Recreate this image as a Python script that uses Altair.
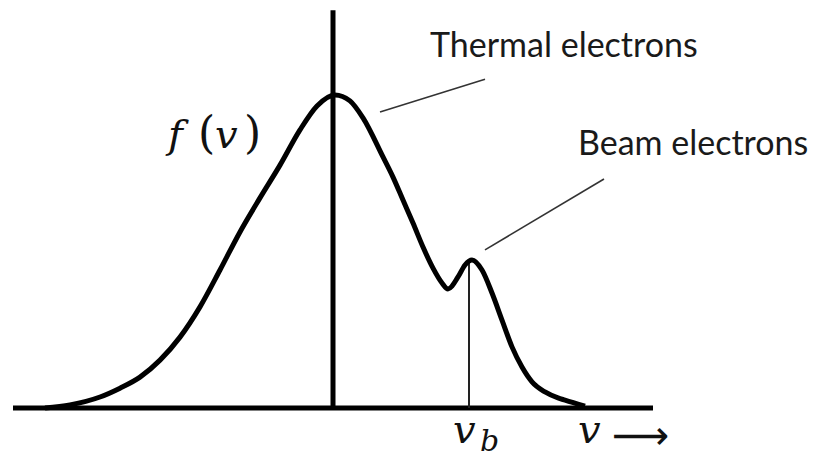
import altair as alt
import pandas as pd

# Distribution f(v) (v in arbitrary units, f normalised to the thermal peak)
v_vals = [-2.88, -2.63, -2.33, -2.13, -1.93, -1.73, -1.53, -1.33, -1.13, -0.93, -0.73, -0.53,
          -0.33, -0.16, 0.02, 0.17, 0.30, 0.50, 0.60, 0.70, 0.80, 0.90, 1.00, 1.09, 1.15,
          1.25, 1.32, 1.39, 1.49, 1.59, 1.69, 1.79, 1.89, 1.99, 2.12, 2.25, 2.32, 2.52]
f_vals = [0.000, 0.010, 0.035, 0.063, 0.098, 0.152, 0.225, 0.321, 0.438, 0.559, 0.667, 0.771,
          0.883, 0.959, 0.994, 0.975, 0.921, 0.797, 0.733, 0.660, 0.587, 0.511, 0.444, 0.397, 0.378,
          0.416, 0.454, 0.470, 0.438, 0.365, 0.279, 0.194, 0.130, 0.083, 0.051, 0.032, 0.025, 0.006]

v_beam = 1.36
f_beam = 0.463
labels = ["Thermal electrons", "Beam electrons"]

curve = pd.DataFrame({"v": v_vals, "f": f_vals})

X = alt.Scale(domain=[-3.25, 4.76], nice=False, zero=False)
Y = alt.Scale(domain=[-0.15873, 1.26984], nice=False, zero=False)


def seg(rows):
    return pd.DataFrame(rows, columns=["x", "y", "x2", "y2"])


axes_df = seg([[-3.20, 0.0, 3.20, 0.0], [0.0, 0.0, 0.0, 1.263]])
beam_df = seg([[v_beam, 0.0, v_beam, f_beam]])
ptr_df = seg([[0.47, 0.940, 1.52, 1.044], [1.52, 0.502, 2.71, 0.727]])


def rules(df, width, color):
    return alt.Chart(df).mark_rule(strokeWidth=width, color=color, strokeCap="butt").encode(
        x=alt.X("x:Q", scale=X, axis=None), y=alt.Y("y:Q", scale=Y, axis=None),
        x2="x2:Q", y2="y2:Q")


def texts(df, **kw):
    return alt.Chart(df).mark_text(align="left", **kw).encode(
        x=alt.X("x:Q", scale=X, axis=None), y=alt.Y("y:Q", scale=Y, axis=None), text="t:N")


line = alt.Chart(curve).mark_line(color="black", strokeWidth=5, interpolate="monotone").encode(
    x=alt.X("v:Q", scale=X, axis=None), y=alt.Y("f:Q", scale=Y, axis=None))

lab = texts(pd.DataFrame({"x": [0.97, 2.45], "y": [1.114, 0.803], "t": labels}),
            font="Lato", fontSize=34, baseline="alphabetic", color="#1a1a1a")

# italic math glyphs: f, v (of f(v)), v (of v_b), v (axis label)
ital = texts(pd.DataFrame({"x": [-1.65, -1.18, 1.20, 2.45],
                           "y": [0.826, 0.826, -0.111, -0.111],
                           "t": ["f", "v", "v", "v"]}),
             font="DejaVu Serif", fontStyle="italic", fontSize=40, baseline="alphabetic",
             color="#111")
parens = texts(pd.DataFrame({"x": [-1.35, -0.89], "y": [0.826, 0.826], "t": ["(", ")"]}),
               font="DejaVu Serif", fontSize=44, baseline="alphabetic", color="#111")
sub = texts(pd.DataFrame({"x": [1.47], "y": [-0.138], "t": ["b"]}),
            font="DejaVu Serif", fontStyle="italic", fontSize=30, baseline="alphabetic",
            color="#111")
arr = texts(pd.DataFrame({"x": [2.79], "y": [-0.092], "t": ["\u27f6"]}),
            font="DejaVu Sans", fontSize=40, baseline="middle", color="#111")

chart = alt.layer(
    rules(axes_df, 5, "black"),
    rules(beam_df, 2, "#222"),
    rules(ptr_df, 1.6, "#333"),
    line, lab, ital, parens, sub, arr,
).properties(
    width=801, height=450, padding=0,
    autosize=alt.AutoSizeParams(type="none"),
).configure_view(stroke=None)

chart.save("out.html", embed_options={"renderer": "svg", "actions": False})
